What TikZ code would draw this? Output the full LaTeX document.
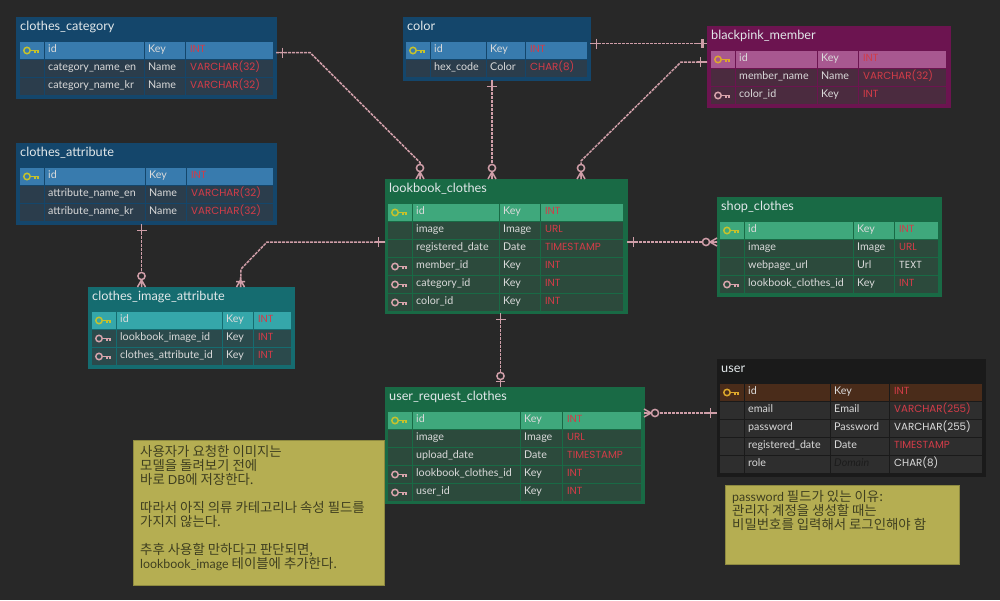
\documentclass[tikz,border=0pt]{standalone}
\usepackage{fontspec}
\setmainfont{Lato}
\newfontfamily\typefont{Poppins}
\newfontfamily\notefont{Noto Sans CJK KR}
\usetikzlibrary{calc,positioning}

\definecolor{bgdark}{HTML}{282828}
\definecolor{linkpink}{HTML}{CF9EA8}
\definecolor{textlight}{HTML}{DADADA}
\definecolor{titlelight}{HTML}{E2E8EA}
\definecolor{typered}{HTML}{D23C48}
\definecolor{typewhite}{HTML}{DCDCDC}
\definecolor{domaindark}{HTML}{1C1C1C}
\definecolor{notefill}{HTML}{B5AE52}
\definecolor{noteline}{HTML}{8E8A40}
\definecolor{notetext}{HTML}{3F3F20}
\definecolor{keyyellow}{HTML}{C6C22C}
\definecolor{keyorange}{HTML}{DDA82C}
\definecolor{keypink}{HTML}{D8A4AC}
\definecolor{blueframe}{HTML}{14466B}
\definecolor{bluehead}{HTML}{387BAE}
\definecolor{bluerow}{HTML}{2B3D4C}
\definecolor{greenframe}{HTML}{196A45}
\definecolor{greenhead}{HTML}{3FA87C}
\definecolor{greenrow}{HTML}{2C4A3C}
\definecolor{tealframe}{HTML}{156C70}
\definecolor{tealhead}{HTML}{35A7AA}
\definecolor{tealrow}{HTML}{2B4A4C}
\definecolor{pinkframe}{HTML}{6C1450}
\definecolor{pinkhead}{HTML}{A85890}
\definecolor{pinkrow}{HTML}{4B2B3F}
\definecolor{darkframe}{HTML}{1A1A1A}
\definecolor{darkhead}{HTML}{4A2C1A}
\definecolor{darkrow}{HTML}{2E2E2E}

\tikzset{
  tablebox/.style={inner sep=0pt,outer sep=0pt,line width=1pt},
  tabletitle/.style={anchor=base west,inner sep=0pt,text=titlelight,font=\fontsize{12.7}{14}\selectfont},
  cellname/.style={anchor=base west,inner sep=0pt,text=textlight,font=\fontsize{10.7}{12}\selectfont},
  celltype/.style={anchor=base west,inner sep=0pt,font=\typefont\fontsize{10.3}{12}\selectfont},
  notebox/.style={fill=notefill,draw=noteline,line width=1pt,inner sep=0pt,outer sep=0pt},
  notetxt/.style={anchor=north west,inner sep=0pt,align=left,text=notetext,
    font=\notefont\fontsize{13.4}{14}\selectfont},
  rellink/.style={linkpink,line width=1.5pt,dash pattern=on 3pt off 1pt},
  relmark/.style={linkpink,line width=1.5pt},
  pics/keyicon/.style={code={
    \draw[line width=1.5pt] (-4,0) circle (3.2);
    \draw[line width=1.5pt] (-0.8,0) -- (6.8,0) -- (6.8,2.6) (3.8,0) -- (3.8,2.4);
  }},
  pics/onebar/.style={code={
    \draw[relmark] (0,0) -- (10,0) (6.5,-5) -- (6.5,5);
  }},
  pics/onebarthick/.style={code={
    \draw[relmark] (0,0) -- (10,0);
    \draw[relmark,line width=3pt] (5,-4.5) -- (5,4.5);
  }},
  pics/zeromany/.style={code={
    \draw[relmark] (0,-4) -- (7,0) -- (0,4) (0,0) -- (7.5,0);
    \draw[relmark,fill=bgdark] (11,0) circle (3.6);
  }},
  pics/zeroone/.style={code={
    \draw[relmark] (0,0) -- (7.5,0) (5.5,-4.5) -- (5.5,4.5);
    \draw[relmark,fill=bgdark] (11,0) circle (3.6);
  }},
  pics/onemany/.style={code={
    \draw[relmark] (0,-4) -- (7,0) -- (0,4) (0,0) -- (10,0) (5.5,-4.5) -- (5.5,4.5);
  }},
}

% colours of one table: frame, head row, other rows, primary key
\newcommand{\erdpalette}[4]{\def\tabframe{#1}\def\tabhead{#2}\def\tabrow{#3}\def\tabkey{#4}}
% left edges of the four columns and the right edge
\newcommand{\erdcols}[5]{\def\colA{#1}\def\colB{#2}\def\colC{#3}\def\colD{#4}\def\colE{#5}}
% name, title, x0, y0, x1, y1
\newcommand{\erdbox}[6]{
  \def\tabname{#1}
  \def\tabtop{#4}
  \node[tablebox,fill=\tabframe,draw=\tabframe,minimum width={(#5-#3)*1pt},minimum height={(#6-#4)*1pt}]
    (#1) at ({(#3+#5)/2},{(#4+#6)/2}) {};
  \node[tabletitle] (#1-title) at (#3+4,#4+13.5) {#2};
}
% field/role/type/type colour/key kind (p, f or n)
\newcommand{\erdrows}[1]{
  \foreach \fname/\fkey/\ftype/\ftcol/\kind [count=\rowi] in {#1}{
    \pgfmathsetmacro\ry{\tabtop+24.5+(\rowi-1)*18}
    \ifnum\rowi=1 \def\rowfill{\tabhead}\else\def\rowfill{\tabrow}\fi
    \fill[\rowfill] (\colA,\ry) rectangle ({\colB-1.5},\ry+17);
    \fill[\rowfill] (\colB,\ry) rectangle ({\colC-1.5},\ry+17);
    \fill[\rowfill] (\colC,\ry) rectangle ({\colD-1.5},\ry+17);
    \fill[\rowfill] (\colD,\ry) rectangle (\colE,\ry+17);
    \node[cellname] (\tabname-\rowi-name) at (\colB+3,\ry+10.5) {\fname};
    \node[cellname] (\tabname-\rowi-key) at (\colC+3,\ry+10.5) {\fkey};
    \node[celltype,text=\ftcol] (\tabname-\rowi-type) at (\colD+4,\ry+10.5) {\ftype};
    \if\kind p\pic[color=\tabkey] at (\colA+11,\ry+9) {keyicon};\fi
    \if\kind f\pic[color=keypink] at (\colA+11,\ry+9) {keyicon};\fi
  }
}
\newcommand{\lat}[1]{{\rmfamily\fontsize{12.4}{14}\selectfont #1}}

\begin{document}
\begin{tikzpicture}[x=1pt,y=-1pt]
  \useasboundingbox (0,0) rectangle (1000,600);
  \fill[bgdark] (0,0) rectangle (1000,600);

  % tables
  \erdpalette{blueframe}{bluehead}{bluerow}{keyyellow}
  \erdcols{20}{45}{145}{186}{273}
  \erdbox{clothes_category}{clothes\_category}{16}{17}{276}{98}
  \erdrows{id/Key/INT/typered/p,
    category\_name\_en/Name/VARCHAR(32)/typered/n,
    category\_name\_kr/Name/VARCHAR(32)/typered/n}

  \erdcols{20}{45}{146}{187}{273}
  \erdbox{clothes_attribute}{clothes\_attribute}{16}{143}{276}{224}
  \erdrows{id/Key/INT/typered/p,
    attribute\_name\_en/Name/VARCHAR(32)/typered/n,
    attribute\_name\_kr/Name/VARCHAR(32)/typered/n}

  \erdcols{406}{431}{487}{526}{587}
  \erdbox{color}{color}{403}{17}{590}{80}
  \erdrows{id/Key/INT/typered/p,
    hex\_code/Color/CHAR(8)/typered/n}

  \erdpalette{pinkframe}{pinkhead}{pinkrow}{keyorange}
  \erdcols{711}{736}{818}{859}{946}
  \erdbox{blackpink_member}{blackpink\_member}{707}{26}{950}{107}
  \erdrows{id/Key/INT/typered/p,
    member\_name/Name/VARCHAR(32)/typered/n,
    color\_id/Key/INT/typered/f}

  \erdpalette{tealframe}{tealhead}{tealrow}{keyyellow}
  \erdcols{92}{117}{223}{254}{291}
  \erdbox{clothes_image_attribute}{clothes\_image\_attribute}{88}{287}{294}{368}
  \erdrows{id/Key/INT/typered/p,
    lookbook\_image\_id/Key/INT/typered/f,
    clothes\_attribute\_id/Key/INT/typered/f}

  \erdpalette{greenframe}{greenhead}{greenrow}{keyyellow}
  \erdcols{388}{413}{500}{541}{623}
  \erdbox{lookbook_clothes}{lookbook\_clothes}{385}{179}{627}{313}
  \erdrows{id/Key/INT/typered/p,
    image/Image/URL/typered/n,
    registered\_date/Date/TIMESTAMP/typered/n,
    member\_id/Key/INT/typered/f,
    category\_id/Key/INT/typered/f,
    color\_id/Key/INT/typered/f}

  \erdcols{720}{745}{854}{895}{938}
  \erdbox{shop_clothes}{shop\_clothes}{717}{197}{941}{296}
  \erdrows{id/Key/INT/typered/p,
    image/Image/URL/typered/n,
    webpage\_url/Url/TEXT/typewhite/n,
    lookbook\_clothes\_id/Key/INT/typered/f}

  \erdcols{388}{413}{521}{563}{641}
  \erdbox{user_request_clothes}{user\_request\_clothes}{385}{387}{644}{503}
  \erdrows{id/Key/INT/typered/p,
    image/Image/URL/typered/n,
    upload\_date/Date/TIMESTAMP/typered/n,
    lookbook\_clothes\_id/Key/INT/typered/f,
    user\_id/Key/INT/typered/f}

  \erdpalette{darkframe}{darkhead}{darkrow}{keyorange}
  \erdcols{720}{745}{831}{890}{982}
  \erdbox{user}{user}{717}{359}{985}{476}
  \erdrows{id/Key/INT/typered/p,
    email/Email/VARCHAR(255)/typered/n,
    password/Password/VARCHAR(255)/typewhite/n,
    registered\_date/Date/TIMESTAMP/typered/n,
    role/{\color{domaindark}\itshape Domain}/CHAR(8)/typewhite/n}

  % connector ends
  \coordinate (catOut) at (clothes_category.east |- 0,52.5);
  \coordinate (catIn) at (420,179);
  \coordinate (colDown) at (492,80);
  \coordinate (colIn) at (492,179);
  \coordinate (colRight) at (590,43.5);
  \coordinate (memPeer) at (707,43.5);
  \coordinate (memOut) at (707,62);
  \coordinate (memIn) at (581,179);
  \coordinate (attrOut) at (141.5,224);
  \coordinate (attrIn) at (141.5,287);
  \coordinate (lookWest) at (385,242);
  \coordinate (imgIn) at (240.5,287);
  \coordinate (lookEast) at (627,242);
  \coordinate (shopIn) at (717,242);
  \coordinate (lookDown) at (500.5,313);
  \coordinate (reqIn) at (500.5,387);
  \coordinate (reqEast) at (644,413);
  \coordinate (userIn) at (717,413);

  % connectors
  \draw[rellink] (catOut) -- ++(34,0) -- ++(110,110) -- (catIn);
  \draw[rellink] (colDown) -- (colIn);
  \draw[rellink] (colRight) -- (memPeer);
  \draw[rellink] (memOut) -- ++(-26,0) -- ++(-100,99) -- (memIn);
  \draw[rellink] (attrOut) -- (attrIn);
  \draw[rellink] (lookWest) -- ++(-118,0) -- ++(-26,27) -- (imgIn);
  \draw[rellink] (lookEast) -- (shopIn);
  \draw[rellink] (lookDown) -- (reqIn);
  \draw[rellink] (reqEast) -- (userIn);

  % connector ends: marks
  \pic[rotate=0] at (catOut) {onebar};
  \pic[rotate=90] at (catIn) {zeromany};
  \pic[rotate=270] at (colDown) {onebar};
  \pic[rotate=90] at (colIn) {zeromany};
  \pic[rotate=0] at (colRight) {onebar};
  \pic[rotate=180] at (memPeer) {onebarthick};
  \pic[rotate=180] at (memOut) {onebar};
  \pic[rotate=90] at (memIn) {zeromany};
  \pic[rotate=270] at (attrOut) {onebar};
  \pic[rotate=90] at (attrIn) {zeromany};
  \pic[rotate=180] at (lookWest) {onebar};
  \pic[rotate=90] at (imgIn) {onemany};
  \pic[rotate=0] at (lookEast) {onebar};
  \pic[rotate=180] at (shopIn) {zeromany};
  \pic[rotate=270] at (lookDown) {onebar};
  \pic[rotate=90] at (reqIn) {zeroone};
  \pic[rotate=0] at (reqEast) {zeromany};
  \pic[rotate=180] at (userIn) {onebar};

  % notes
  \node[notebox,minimum width=251pt,minimum height=145pt] (noteRequest) at (258.5,512.5) {};
  \node[notetxt] (noteRequestText) at (140,445) {사용자가 요청한 이미지는\\
    모델을 돌려보기 전에\\
    바로 \lat{DB}에 저장한다.\\[14pt]
    따라서 아직 의류 카테고리나 속성 필드를\\
    가지지 않는다.\\[14pt]
    추후 사용할 만하다고 판단되면,\\
    \lat{lookbook\_image} 테이블에 추가한다.};
  \node[notebox,minimum width=234pt,minimum height=79pt] (notePassword) at (842,524.5) {};
  \node[notetxt] (notePasswordText) at (732,490) {\lat{password} 필드가 있는 이유:\\
    관리자 계정을 생성할 때는\\
    비밀번호를 입력해서 로그인해야 함};
\end{tikzpicture}
\end{document}
